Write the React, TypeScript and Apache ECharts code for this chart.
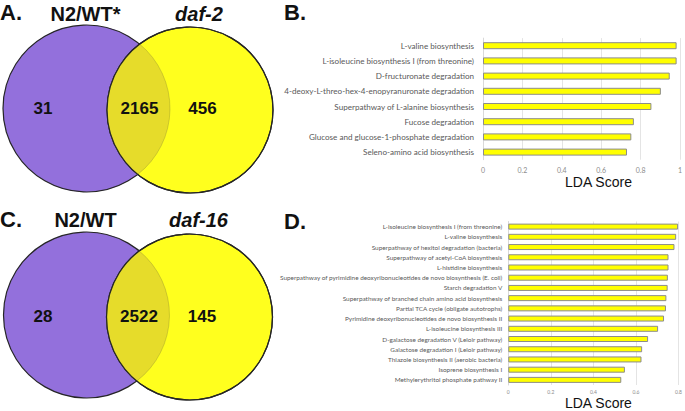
import React, { useEffect, useRef } from "react";
import * as echarts from "echarts";

// ---------- Data ----------
const bCategories = [
  "L-valine biosynthesis",
  "L-isoleucine biosynthesis I (from threonine)",
  "D-fructuronate degradation",
  "4-deoxy-L-threo-hex-4-enopyranuronate degradation",
  "Superpathway of L-alanine biosynthesis",
  "Fucose degradation",
  "Glucose and glucose-1-phosphate degradation",
  "Seleno-amino acid biosynthesis",
];
const bValues = [0.983, 0.983, 0.948, 0.903, 0.855, 0.766, 0.753, 0.731];

const dCategories = [
  "L-isoleucine biosynthesis I (from threonine)",
  "L-valine biosynthesis",
  "Superpathway of hexitol degradation (bacteria)",
  "Superpathway of acetyl-CoA biosynthesis",
  "L-histidine biosynthesis",
  "Superpathway of pyrimidine deoxyribonucleotides de novo biosynthesis (E. coli)",
  "Starch degradation V",
  "Superpathway of branched chain amino acid biosynthesis",
  "Partial TCA cycle (obligate autotrophs)",
  "Pyrimidine deoxyribonucleotides de novo biosynthesis II",
  "L-isoleucine biosynthesis III",
  "D-galactose degradation V (Leloir pathway)",
  "Galactose degradation I (Leloir pathway)",
  "Thiazole biosynthesis II (aerobic bacteria)",
  "Isoprene biosynthesis I",
  "Methylerythritol phosphate pathway II",
];
const dValues = [
  0.798, 0.789, 0.781, 0.753, 0.753, 0.75, 0.749, 0.743, 0.741, 0.732, 0.704,
  0.657, 0.629, 0.626, 0.548, 0.531,
];

const vennANames = ["N2/WT*", "daf-2"];
const vennACounts = [31, 2165, 456];
const vennCNames = ["N2/WT", "daf-16"];
const vennCCounts = [28, 2522, 145];

const panelLetters = ["A.", "B.", "C.", "D."];

// ---------- Venn helpers ----------
type Circ = { cx: number; cy: number; r: number };

function lensPath(c1: Circ, c2: Circ): string {
  const dx = c2.cx - c1.cx;
  const dy = c2.cy - c1.cy;
  const d = Math.sqrt(dx * dx + dy * dy);
  const a = (c1.r * c1.r - c2.r * c2.r + d * d) / (2 * d);
  const h = Math.sqrt(c1.r * c1.r - a * a);
  const px = c1.cx + (a * dx) / d;
  const py = c1.cy + (a * dy) / d;
  const p1x = px + (h * dy) / d;
  const p1y = py - (h * dx) / d;
  const p2x = px - (h * dy) / d;
  const p2y = py + (h * dx) / d;
  return `M ${p1x} ${p1y} A ${c2.r} ${c2.r} 0 0 0 ${p2x} ${p2y} A ${c1.r} ${c1.r} 0 0 0 ${p1x} ${p1y} Z`;
}

const PURPLE = "#9370dc";
const YELLOW = "#ffff1e";
const OVERLAP = "#e6dc2a";
const OUTLINE = "#262626";
const TITLE_FONT = "'Liberation Sans', Arial, sans-serif";
const LABEL_FONT = "Lato, 'Open Sans', sans-serif";

function vennGraphics(
  shapeName: string,
  left: Circ,
  right: Circ,
  names: string[],
  counts: number[],
  letter: string,
  titleY: number,
  countY: number
): any[] {
  const els: any[] = [];
  els.push({
    type: "circle",
    shape: { ...left },
    style: { fill: PURPLE, stroke: OUTLINE, lineWidth: 1.2 },
  });
  els.push({
    type: "circle",
    shape: { ...right },
    style: { fill: YELLOW, stroke: OUTLINE, lineWidth: 1.2 },
  });
  els.push({
    type: shapeName,
    x: 0,
    y: 0,
    style: { fill: OVERLAP, stroke: "rgba(60,60,60,0.25)", lineWidth: 0.8 },
  });
  els.push({
    type: "circle",
    shape: { ...right },
    style: { fill: "none", stroke: OUTLINE, lineWidth: 1.2 },
  });
  const textBase = {
    fontFamily: TITLE_FONT,
    fontWeight: "bold",
    fill: "#111",
    align: "center",
    verticalAlign: "middle",
  };
  const lensLeft = right.cx - right.r;
  const lensRight = left.cx + left.r;
  const countX = [
    (left.cx - left.r + lensLeft) / 2 - 12,
    (lensLeft + lensRight) / 2 + 1,
    (lensRight + right.cx + right.r) / 2 - 19,
  ];
  counts.forEach((c, i) => {
    els.push({
      type: "text",
      x: countX[i],
      y: countY,
      style: { ...textBase, text: String(c), fontSize: 17 },
    });
  });
  els.push({
    type: "text",
    x: left.cx - 1,
    y: titleY,
    style: { ...textBase, text: names[0], fontSize: 20 },
  });
  els.push({
    type: "text",
    x: right.cx + 9,
    y: titleY,
    style: { ...textBase, text: names[1], fontSize: 20, fontStyle: "italic" },
  });
  els.push({
    type: "text",
    x: 0,
    y: titleY - 1,
    style: {
      ...textBase,
      align: "left",
      text: letter,
      fontSize: 22,
    },
  });
  return els;
}

export default function App() {
  const ref = useRef<HTMLDivElement>(null);

  useEffect(() => {
    if (!ref.current) return;
    const circA1: Circ = { cx: 86.5, cy: 108.5, r: 83.5 };
    const circA2: Circ = { cx: 190, cy: 110, r: 83 };
    const circC1: Circ = { cx: 86.5, cy: 315, r: 83 };
    const circC2: Circ = { cx: 189.5, cy: 317, r: 83 };

    echarts.graphic.registerShape(
      "lensA",
      echarts.graphic.extendPath(lensPath(circA1, circA2), {}) as any
    );
    echarts.graphic.registerShape(
      "lensC",
      echarts.graphic.extendPath(lensPath(circC1, circC2), {}) as any
    );

    const chart = echarts.init(ref.current, null, { renderer: "svg" });

    const axisLabelColor = "#8c8c8c";
    const catLabelColor = "#595959";
    const gridColor = "#e4e4e4";

    const option: any = {
      animation: false,
      backgroundColor: "#ffffff",
      grid: [
        { left: 483, top: 38.1, width: 200, height: 121.6 },
        { left: 508.3, top: 221.5, width: 171.7, height: 165.3 },
      ],
      xAxis: [
        {
          gridIndex: 0,
          type: "value",
          min: 0,
          max: 1,
          interval: 0.2,
          axisLine: { show: false },
          axisTick: { show: false },
          splitLine: { show: true, lineStyle: { color: gridColor, width: 1 } },
          axisLabel: {
            fontSize: 7,
            color: axisLabelColor,
            margin: 7,
            fontFamily: LABEL_FONT,
          },
          name: "LDA Score",
          nameLocation: "middle",
          nameGap: 14,
          nameTextStyle: {
            fontSize: 14,
            color: "#111",
            fontFamily: TITLE_FONT,
            padding: [0, 0, 0, 34],
          },
        },
        {
          gridIndex: 1,
          type: "value",
          min: 0,
          max: 0.8,
          interval: 0.2,
          axisLine: { show: false },
          axisTick: { show: false },
          splitLine: { show: true, lineStyle: { color: gridColor, width: 1 } },
          axisLabel: {
            fontSize: 5,
            color: axisLabelColor,
            margin: 4,
            fontFamily: LABEL_FONT,
          },
          name: "LDA Score",
          nameLocation: "middle",
          nameGap: 11,
          nameTextStyle: {
            fontSize: 14,
            color: "#111",
            fontFamily: TITLE_FONT,
            padding: [0, 0, 0, 10],
          },
        },
      ],
      yAxis: [
        {
          gridIndex: 0,
          type: "category",
          inverse: true,
          data: bCategories,
          axisLine: { show: true, lineStyle: { color: "#d9d9d9" } },
          axisTick: { show: false },
          axisLabel: {
            fontSize: 8.1,
            color: catLabelColor,
            margin: 9,
            fontFamily: LABEL_FONT,
          },
        },
        {
          gridIndex: 1,
          type: "category",
          inverse: true,
          data: dCategories,
          axisLine: { show: true, lineStyle: { color: "#d9d9d9" } },
          axisTick: { show: false },
          axisLabel: {
            fontSize: 6.4,
            color: catLabelColor,
            margin: 6,
            fontFamily: LABEL_FONT,
          },
        },
      ],
      series: [
        {
          type: "bar",
          xAxisIndex: 0,
          yAxisIndex: 0,
          data: bValues,
          barWidth: 7,
          itemStyle: { color: "#ffff00", borderColor: "#8c8c8c", borderWidth: 1 },
        },
        {
          type: "bar",
          xAxisIndex: 1,
          yAxisIndex: 1,
          data: dValues,
          barWidth: 6,
          itemStyle: { color: "#ffff00", borderColor: "#8c8c8c", borderWidth: 1 },
        },
      ],
      graphic: [
        ...vennGraphics("lensA", circA1, circA2, vennANames, vennACounts, panelLetters[0], 13.5, 108.5),
        ...vennGraphics("lensC", circC1, circC2, vennCNames, vennCCounts, panelLetters[2], 220, 316),
        {
          type: "text",
          x: 284,
          y: 12,
          style: {
            text: panelLetters[1],
            fontFamily: TITLE_FONT,
            fontWeight: "bold",
            fontSize: 22,
            fill: "#111",
            align: "left",
            verticalAlign: "middle",
          },
        },
        {
          type: "text",
          x: 284,
          y: 221,
          style: {
            text: panelLetters[3],
            fontFamily: TITLE_FONT,
            fontWeight: "bold",
            fontSize: 22,
            fill: "#111",
            align: "left",
            verticalAlign: "middle",
          },
        },
      ],
    };

    chart.setOption(option);
    return () => chart.dispose();
  }, []);

  return (
    <div
      ref={ref}
      style={{
        position: "fixed",
        left: 0,
        top: 0,
        width: 685,
        height: 411,
        background: "#fff",
      }}
    />
  );
}
